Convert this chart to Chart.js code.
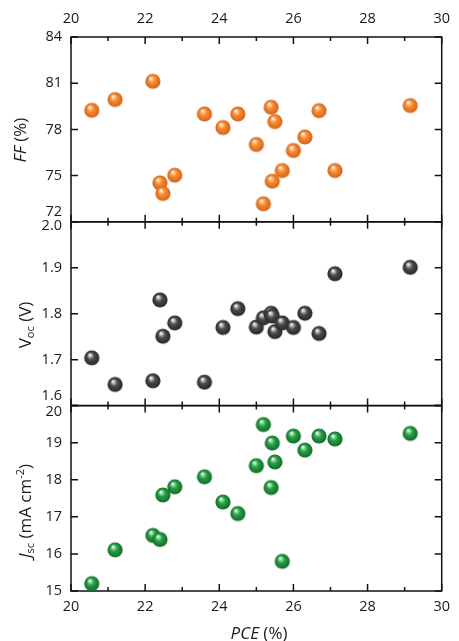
<!DOCTYPE html>
<html><head><meta charset="utf-8">
<script src="https://cdn.jsdelivr.net/npm/chart.js@4"></script>
<style>
html,body{margin:0;padding:0;background:#fff;}
#wrap{position:relative;width:459px;height:641px;overflow:hidden;}
canvas{display:block;}
.t{position:absolute;font-family:'Open Sans',sans-serif;font-size:17px;color:#1a1a1a;white-space:nowrap;line-height:1;}
.rot{transform:translate(-50%,-50%) rotate(-90deg);}
.hz{transform:translate(-50%,-50%);}
.t sub{font-size:11px;vertical-align:-3px;line-height:0;}
.t sup{font-size:11px;vertical-align:7px;line-height:0;}
</style></head><body>
<div id="wrap">
<canvas id="c" width="459" height="641"></canvas>
<div class="t rot" style="left:19px;top:140px"><i>FF</i> (%)</div>
<div class="t rot" style="left:24px;top:325px">V<sub>oc</sub> (V)</div>
<div class="t rot" style="left:24px;top:511px"><i>J</i><sub>sc</sub> (mA cm<sup>-2</sup>)</div>
<div class="t hz" style="left:259px;top:632px"><i>PCE</i> (%)</div>
</div>
<script>
// ---- data ----
const pce = [20.56, 21.19, 22.21, 22.40, 22.48, 22.80, 23.60, 24.10, 24.50, 25.00, 25.19, 25.40, 25.43, 25.50, 25.70, 26.00, 26.31, 26.69, 27.12, 29.15];
const ff  = [79.24, 79.94, 81.12, 74.53, 73.84, 75.03, 79.00, 78.12, 79.00, 77.02, 73.17, 79.44, 74.64, 78.51, 75.33, 76.63, 77.51, 79.22, 75.33, 79.55];
const voc = [1.704, 1.646, 1.654, 1.830, 1.751, 1.780, 1.651, 1.770, 1.811, 1.771, 1.791, 1.801, 1.795, 1.761, 1.780, 1.770, 1.801, 1.757, 1.887, 1.901];
const jsc = [15.20, 16.11, 16.50, 16.39, 17.59, 17.81, 18.08, 17.40, 17.09, 18.38, 19.49, 17.79, 18.99, 18.48, 15.80, 19.18, 18.80, 19.18, 19.10, 19.25];

// ---- ticks ----
const xTicks = [20, 22, 24, 26, 28, 30];
const xMinorTicks = [21, 23, 25, 27, 29];
const xLabels = ['20', '22', '24', '26', '28', '30'];
const ffTicks = [72, 75, 78, 81, 84];
const ffLabels = ['72', '75', '78', '81', '84'];
const vocTicks = [1.6, 1.7, 1.8, 1.9, 2.0];
const vocLabels = ['1.6', '1.7', '1.8', '1.9', '2.0'];
const jscTicks = [15, 16, 17, 18, 19, 20];
const jscLabels = ['15', '16', '17', '18', '19', '20'];

const FONT = "'Open Sans', sans-serif";
const TXT = '#1a1a1a';
const TSIZE = 14.5;

function ball(light, base, dark, r) {
  const s = 18;
  const c = document.createElement('canvas');
  c.width = s; c.height = s;
  const g = c.getContext('2d');
  const cx = s / 2, cy = s / 2;
  const grd = g.createRadialGradient(cx - r * 0.28, cy - r * 0.42, r * 0.04, cx, cy, r);
  grd.addColorStop(0, '#ffffff');
  grd.addColorStop(0.16, light);
  grd.addColorStop(0.45, base);
  grd.addColorStop(1, dark);
  g.fillStyle = grd;
  g.beginPath(); g.arc(cx, cy, r, 0, Math.PI * 2); g.fill();
  return c;
}
const orangeBall = ball('#fcc99c', '#f58a30', '#d4621a', 7.6);
const grayBall = ball('#bdbdbd', '#4c4c4c', '#262626', 7.6);
const greenBall = ball('#9fd8ad', '#25a044', '#116a28', 7.6);

function pts(ys) { return pce.map((x, i) => ({x: x, y: ys[i]})); }

function setTicks(vals) { return s => { s.ticks = vals.map(v => ({value: v})); }; }

// labels at panel joints are nudged by a two-line label (blank line above/below)
function labelFn(vals, labels, up, down) {
  return function(value) {
    const i = vals.findIndex(v => Math.abs(v - value) < 1e-6);
    const l = labels[i];
    if (up.includes(l)) return [l, ''];
    if (down.includes(l)) return ['', l];
    return l;
  };
}
const lhMap = {'72': 20, '1.6': 19, '2.0': 8, '20': 12};
function tickFont(ctx) {
  const lab = ctx.tick && ctx.tick.label;
  const key = Array.isArray(lab) ? lab.join('') : lab;
  const lh = lhMap[key];
  return {family: FONT, size: TSIZE, lineHeight: lh ? lh / TSIZE : 1.2};
}

function yScale(vals, labels, up, down, w) {
  return {
    type: 'linear', position: 'left', stack: 'panels', stackWeight: w,
    min: vals[0], max: vals[vals.length - 1],
    afterBuildTicks: setTicks(vals),
    afterFit: s => { s.width = 71; },
    grid: {display: false, drawTicks: false},
    border: {display: false},
    ticks: {color: TXT, padding: 9, autoSkip: false, font: tickFont, callback: labelFn(vals, labels, up, down)}
  };
}

const framePlugin = {
  id: 'frame',
  beforeDatasetsDraw(chart) {
    const ctx = chart.ctx;
    const xs = chart.scales.x;
    const L = xs.getPixelForValue(xTicks[0]);
    const R = xs.getPixelForValue(xTicks[xTicks.length - 1]);
    const panels = [['yF', ffTicks], ['yV', vocTicks], ['yJ', jscTicks]];
    ctx.save();
    ctx.strokeStyle = '#111';
    ctx.lineWidth = 1.5;
    panels.forEach(([id, vals]) => {
      const s = chart.scales[id];
      const T = s.getPixelForValue(vals[vals.length - 1]);
      const B = s.getPixelForValue(vals[0]);
      ctx.strokeRect(L, T, R - L, B - T);
      ctx.beginPath();
      xTicks.concat(xMinorTicks).forEach(v => {
        const p = xs.getPixelForValue(v);
        const len = xTicks.includes(v) ? 7 : 4;
        ctx.moveTo(p, T); ctx.lineTo(p, T + len);
        ctx.moveTo(p, B); ctx.lineTo(p, B - len);
      });
      vals.forEach(v => {
        const p = s.getPixelForValue(v);
        ctx.moveTo(L, p); ctx.lineTo(L + 7, p);
        ctx.moveTo(R, p); ctx.lineTo(R - 7, p);
      });
      ctx.stroke();
    });
    ctx.restore();
  }
};

const xCommon = {
  type: 'linear', min: xTicks[0], max: xTicks[xTicks.length - 1],
  afterBuildTicks: setTicks(xTicks),
  grid: {display: false, drawTicks: false},
  border: {display: false}
};

new Chart(document.getElementById('c'), {
  type: 'scatter',
  data: {
    datasets: [
      {label: 'Jsc', data: pts(jsc), yAxisID: 'yJ', pointStyle: greenBall, clip: false},
      {label: 'Voc', data: pts(voc), yAxisID: 'yV', pointStyle: grayBall, clip: false},
      {label: 'FF', data: pts(ff), yAxisID: 'yF', pointStyle: orangeBall, clip: false}
    ]
  },
  options: {
    responsive: false,
    animation: false,
    events: [],
    layout: {padding: {left: 0, right: 12, top: 0, bottom: 0}},
    plugins: {legend: {display: false}, tooltip: {enabled: false}},
    scales: {
      x: Object.assign({}, xCommon, {
        position: 'bottom',
        afterFit: s => { s.height = 50; },
        ticks: {color: TXT, padding: 7, autoSkip: false, maxRotation: 0, font: {family: FONT, size: TSIZE},
          callback: v => xLabels[xTicks.indexOf(v)]}
      }),
      x2: Object.assign({}, xCommon, {
        position: 'top',
        afterFit: s => { s.height = 37; },
        ticks: {color: TXT, padding: 9, autoSkip: false, maxRotation: 0, font: {family: FONT, size: TSIZE},
          callback: v => xLabels[xTicks.indexOf(v)]}
      }),
      yJ: yScale(jscTicks, jscLabels, [], ['20'], 185.6),
      yV: yScale(vocTicks, vocLabels, ['1.6'], ['2.0'], 184),
      yF: yScale(ffTicks, ffLabels, ['72'], [], 185)
    }
  },
  plugins: [framePlugin]
});
</script>
</body></html>
